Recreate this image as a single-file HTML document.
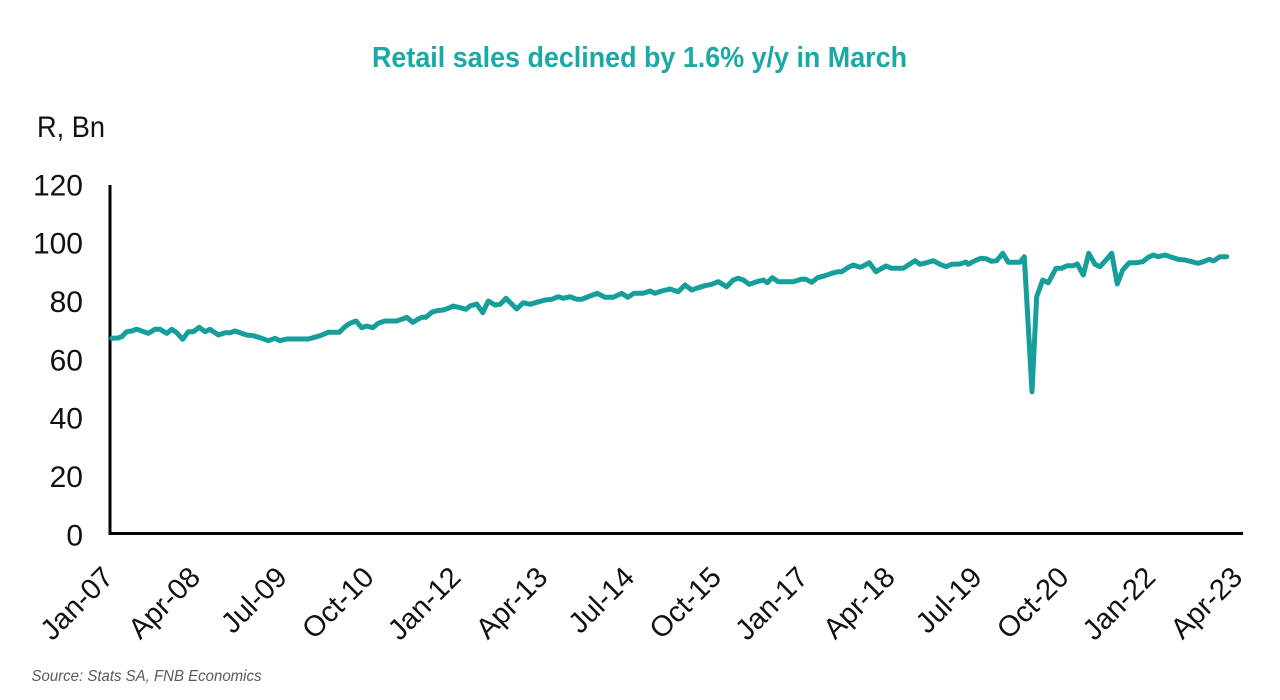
<!DOCTYPE html>
<html>
<head>
<meta charset="utf-8">
<style>
html,body{margin:0;padding:0;background:#fff;}
body{width:1280px;height:700px;overflow:hidden;}
svg{display:block;}
</style>
</head>
<body>
<svg width="1280" height="700" viewBox="0 0 1280 700" xmlns="http://www.w3.org/2000/svg">
<rect width="1280" height="700" fill="#ffffff"/>
<!-- Title -->
<text x="372" y="67" font-family="'Liberation Sans', sans-serif" font-weight="bold" font-size="29" fill="#1ba9a6" textLength="535" lengthAdjust="spacingAndGlyphs">Retail sales declined by 1.6% y/y in March</text>
<!-- Y axis unit -->
<text x="37" y="137" font-family="'Liberation Sans', sans-serif" font-size="30" fill="#111" textLength="68" lengthAdjust="spacingAndGlyphs">R, Bn</text>
<!-- Y tick labels -->
<g font-family="'Liberation Sans', sans-serif" font-size="30" fill="#111" text-anchor="end">
<text x="83" y="195.3">120</text>
<text x="83" y="253.6">100</text>
<text x="83" y="312">80</text>
<text x="83" y="370.3">60</text>
<text x="83" y="428.6">40</text>
<text x="83" y="487">20</text>
<text x="83" y="545.3">0</text>
</g>
<!-- Axes -->
<line x1="110" y1="185" x2="110" y2="535" stroke="#000" stroke-width="3"/>
<line x1="108.5" y1="533.5" x2="1243" y2="533.5" stroke="#000" stroke-width="3"/>
<!-- X tick labels -->
<g font-family="'Liberation Sans', sans-serif" font-size="29" fill="#111" text-anchor="end">
<text transform="translate(115,579) rotate(-45)">Jan-07</text>
<text transform="translate(201.85,579) rotate(-45)">Apr-08</text>
<text transform="translate(288.7,579) rotate(-45)">Jul-09</text>
<text transform="translate(375.55,579) rotate(-45)">Oct-10</text>
<text transform="translate(462.4,579) rotate(-45)">Jan-12</text>
<text transform="translate(549.25,579) rotate(-45)">Apr-13</text>
<text transform="translate(636.1,579) rotate(-45)">Jul-14</text>
<text transform="translate(722.95,579) rotate(-45)">Oct-15</text>
<text transform="translate(809.8,579) rotate(-45)">Jan-17</text>
<text transform="translate(896.65,579) rotate(-45)">Apr-18</text>
<text transform="translate(983.5,579) rotate(-45)">Jul-19</text>
<text transform="translate(1070.35,579) rotate(-45)">Oct-20</text>
<text transform="translate(1157.2,579) rotate(-45)">Jan-22</text>
<text transform="translate(1244.05,579) rotate(-45)">Apr-23</text>
</g>
<!-- Series -->
<polyline fill="none" stroke="#169e9b" stroke-width="5" stroke-linejoin="round" stroke-linecap="round" points="111.7,338.3 118,338 121.7,336.7 126.7,331.7 131.7,331 136.7,329.3 141.7,331 148.3,333.3 155,329.3 160,329.3 166.7,333.3 171.7,329.3 176.7,332.7 182.7,339.3 188.3,331.7 193.3,331.7 199.3,327.3 205,331.7 210,329.3 218.3,335 225,332.7 230,332.7 235,331 240,332.7 246.7,335 253.3,335.7 260,337.7 268.3,340.7 275,338.3 280,340.7 286.7,339 293.3,339 300,339 308.3,339 313.3,337.7 320,335.7 328.3,332.3 333.3,332.3 339.3,332.3 345,326.7 350,323.3 356,321 361.7,327.7 366.7,326 372.7,327.7 378.3,323.3 385,321 390,321 396.7,321 401.7,319.3 406.7,317.3 412.7,322.3 416.7,320 421.7,317.3 426,317.3 431.7,312.3 436.7,310.7 443.3,310 448.3,308.3 453.3,306 460,307.7 466,309.3 470,306 476.7,304 482.7,312.7 488.3,301 495,305 500,304.3 506,298.3 511.7,304 516.7,309 523.3,302.7 530,304.3 536.7,302.3 545,300 551.7,299.3 558.3,296.7 563.3,298.3 570,296.7 576.7,299.3 581.7,299.3 590,296 597.3,293.3 605,297.3 613.3,297.3 621.7,293.3 627.7,297.3 634,293.3 643.3,293.3 650,291 655,293.3 661.7,291 670,289 678.3,291.7 685,285 691.7,290 698.3,287.7 705,285.7 711.7,284.3 718.3,281.7 726.7,286.7 733.3,280 738.3,278.3 743.3,280 749.3,284.3 756.7,281.7 763.3,280 767.3,282.7 772.3,277.7 778.3,281.7 785,281.7 793.3,281.7 801,279.3 806,279.3 811.7,282.3 817.7,277.7 825,275.7 831.7,273.3 838.3,271.7 841.7,271.7 848.3,267.3 853.3,265 860,267.3 863.3,266 869.3,262.7 876,271.7 880,269.3 886,266 891.7,268.3 896.7,268.3 903.3,268.3 908.3,265 915,260.7 920,264.3 926.7,262.7 933.3,260.7 940,264.3 946,266.7 951.7,264.3 960,264 966,262 968.3,264.3 975,260.7 980.7,258.3 986,258.7 991.7,261.3 996.7,260.7 1002.7,253.3 1008.3,262.3 1016.7,262.3 1020,262.3 1024.3,256.7 1032,391.7 1036.7,296.7 1042.7,280 1048.3,282.7 1056,268.3 1061.7,268.3 1067.3,265.7 1073.3,265.7 1077.3,264 1083.3,275 1088.7,253.3 1095,264.3 1100,266.7 1106,260 1111.7,253.3 1117.3,284 1122.7,270 1129.3,262.7 1136.7,262.7 1142.7,261.7 1148.3,257.3 1153.3,255 1158.3,256.7 1165,255 1171.7,257.3 1178.3,259.3 1185,260 1191.7,261.7 1198.3,263.3 1203.3,261.7 1209.3,259.3 1213.3,261 1220,256.7 1226.7,256.7"/>
<!-- Source -->
<text x="31.5" y="681" font-family="'Liberation Sans', sans-serif" font-style="italic" font-size="16" fill="#595959" textLength="230" lengthAdjust="spacingAndGlyphs">Source: Stats SA, FNB Economics</text>
</svg>
</body>
</html>
